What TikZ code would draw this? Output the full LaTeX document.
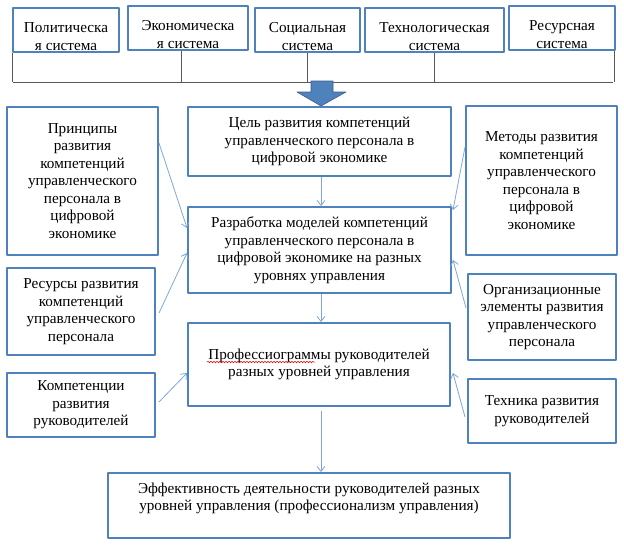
\documentclass[tikz,border=0pt]{standalone}
\usepackage{fontspec}
\setmainfont{Liberation Serif}
\usetikzlibrary{arrows.meta, decorations.pathmorphing}
\definecolor{boxblue}{HTML}{4F81BD}
\definecolor{arrblue}{HTML}{7EA6DA}
\definecolor{darkblue}{HTML}{385D8A}
\tikzset{
  box/.style={draw=boxblue, line width=2pt, align=center, inner sep=0pt, font=\fontsize{15.2}{17.5}\selectfont},
  lbl/.style={align=center, inner sep=0pt, font=\fontsize{15.2}{17.5}\selectfont},
  link/.style={draw=arrblue, line width=0.8pt, -{Straight Barb[length=5pt,width=8pt]}},
  bus/.style={draw=black!65, line width=0.8pt}
}
\begin{document}
\begin{tikzpicture}[x=1pt, y=-1pt, line join=round]
\useasboundingbox (0,0) rectangle (624,549);
% systems on top
\node[box, minimum width=106pt, minimum height=44pt, label={[lbl,yshift=-6.5pt]center:Политическа\\я система}] (pol) at (66,30) {};
\node[box, minimum width=120pt, minimum height=44pt, label={[lbl,yshift=-6.5pt]center:Экономическа\\я система}] (eco) at (188,28) {};
\node[box, minimum width=105pt, minimum height=44pt, label={[lbl,yshift=-6.5pt]center:Социальная\\система}] (soc) at (307.5,30) {};
\node[box, minimum width=139pt, minimum height=44pt, label={[lbl,yshift=-6.5pt]center:Технологическая\\система}] (tech) at (434.5,30) {};
\node[box, minimum width=106pt, minimum height=44pt, label={[lbl,yshift=-6.5pt]center:Ресурсная\\система}] (res) at (562,28) {};
\coordinate (busL) at (13,82);
\coordinate (busR) at (613,82);
\draw[bus] (busL) -- (busR);
\draw[bus] (pol.south west) -- (pol.south west |- busL);
\draw[bus] ([xshift=-7pt]eco.south) -- ([xshift=-7pt]eco.south |- busL);
\draw[bus] (soc.south) -- (soc.south |- busL);
\draw[bus] (tech.south) -- (tech.south |- busL);
\draw[bus] ([xshift=-2pt]res.south east) -- ([xshift=-2pt]res.south east |- busL);
% block arrow
\draw[fill=boxblue, draw=darkblue, line width=0.6pt] (311,81) -- (333,81) -- (333,92) -- (346,92) -- (321,106) -- (297,92) -- (311,92) -- cycle;
% left column
\node[box, minimum width=151pt, minimum height=148pt] (princ) at (82.5,181) {Принципы\\развития\\компетенций\\управленческого\\персонала в\\цифровой\\экономике};
\node[box, minimum width=148pt, minimum height=87pt] (resur) at (81,311.5) {Ресурсы развития\\компетенций\\управленческого\\персонала};
\node[box, minimum width=148pt, minimum height=64pt] (komp) at (81,405) {Компетенции\\развития\\руководителей};
% middle column
\node[box, minimum width=263pt, minimum height=69pt] (goal) at (319.5,141.5) {Цель развития компетенций\\управленческого персонала в\\цифровой экономике};
\node[box, minimum width=263pt, minimum height=86pt] (model) at (319.5,250) {Разработка моделей компетенций\\управленческого персонала в\\цифровой экономике на разных\\уровнях управления};
\node[box, minimum width=262pt, minimum height=83pt] (prof) at (319,364.5) {Профессиограммы руководителей\\разных уровней управления};
\draw[red, line width=0.5pt, decorate, decoration={snake, amplitude=0.8pt, segment length=3pt}] ([xshift=-112pt,yshift=2.5pt]prof.center) -- ([xshift=-4pt,yshift=2.5pt]prof.center);
\node[box, minimum width=402pt, minimum height=65pt, label={[lbl,yshift=7pt]center:Эффективность деятельности руководителей разных\\уровней управления (профессионализм управления)}] (eff) at (309,505.5) {};
% right column
\node[box, minimum width=151pt, minimum height=149pt] (meth) at (541.5,180.5) {Методы развития\\компетенций\\управленческого\\персонала в\\цифровой\\экономике};
\node[box, minimum width=148pt, minimum height=86pt] (org) at (542,317) {Организационные\\элементы развития\\управленческого\\персонала};
\node[box, minimum width=148pt, minimum height=64pt] (techn) at (542,411) {Техника развития\\руководителей};
% links
\draw[link] ([xshift=1.5pt]goal.south) -- ([xshift=1.5pt]model.north);
\draw[link] ([xshift=1.5pt]model.south) -- ([xshift=2pt]prof.north);
\draw[link] ([xshift=2pt,yshift=-4pt]prof.south) -- ([xshift=2pt]prof.south |- eff.north);
\draw[link] ([yshift=38pt]princ.east) -- ([yshift=22pt]model.west);
\draw[link] ([xshift=3pt,yshift=-1.5pt]resur.east) -- ([yshift=-3pt]model.west);
\draw[link] ([xshift=3pt,yshift=3pt]komp.east) -- ([yshift=-8.5pt]prof.west);
\draw[link] ([yshift=33.5pt]meth.west) -- ([xshift=1pt,yshift=40pt]model.east);
\draw[link] ([xshift=-1pt,yshift=9pt]org.west) -- ([xshift=1pt,yshift=-10pt]model.east);
\draw[link] ([xshift=-2pt,yshift=-6pt]techn.west) -- ([xshift=2pt,yshift=-8.5pt]prof.east);
\end{tikzpicture}
\end{document}
